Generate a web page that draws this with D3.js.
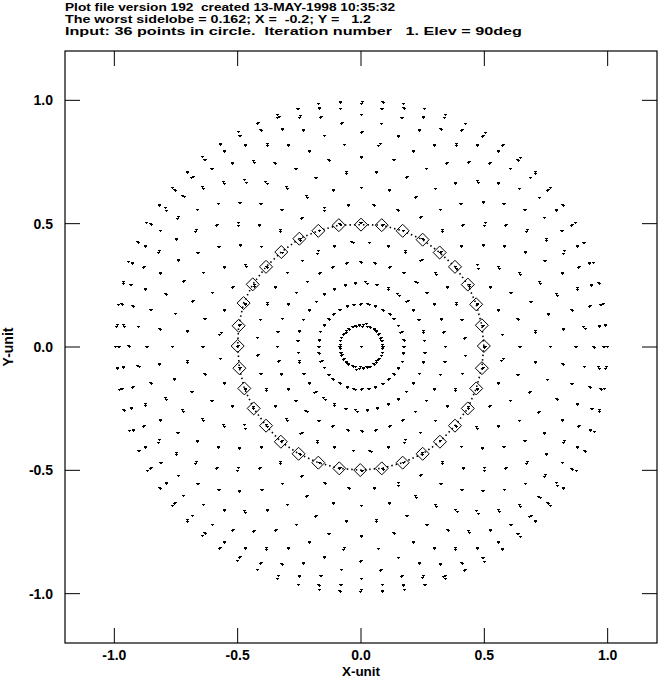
<!DOCTYPE html>
<html>
<head>
<script src="https://cdn.jsdelivr.net/npm/d3@7"></script>
<style>
  body { margin: 0; background: #fff; }
  text { font-family: "Liberation Sans", Arial, sans-serif; font-weight: bold; fill: #000; white-space: pre; }
</style>
</head>
<body>
<svg id="chart" width="658" height="678"></svg>
<script>
// Header lines
var titleLines = [
  "Plot file version 192  created 13-MAY-1998 10:35:32",
  "The worst sidelobe = 0.162; X =  -0.2; Y =   1.2",
  "Input: 36 points in circle.  Iteration number   1. Elev = 90deg"
];
var titleWidths = [330, 306, 457];

// Antenna positions (diamonds)
var antX = [0.498, 0.490, 0.467, 0.433, 0.381, 0.319, 0.250, 0.169, 0.084, 0.000,
            -0.090, -0.173, -0.250, -0.323, -0.385, -0.439, -0.476, -0.496, -0.500,
            -0.493, -0.473, -0.435, -0.385, -0.325, -0.253, -0.173, -0.088, -0.003,
            0.084, 0.169, 0.250, 0.320, 0.381, 0.433, 0.467, 0.490];
var antY = [0.004, 0.088, 0.173, 0.253, 0.325, 0.383, 0.435, 0.471, 0.494, 0.496,
            0.494, 0.471, 0.439, 0.385, 0.325, 0.254, 0.178, 0.086, 0.004,
            -0.086, -0.168, -0.249, -0.319, -0.384, -0.433, -0.469, -0.492, -0.499,
            -0.492, -0.469, -0.433, -0.384, -0.319, -0.249, -0.168, -0.086];

var tickValues = [-1.0, -0.5, 0.0, 0.5, 1.0];
var tickLabels = ["-1.0", "-0.5", "0.0", "0.5", "1.0"];

var margin = {left: 65, right: 1, top: 51, bottom: 35};
var width = 658 - margin.left - margin.right;
var height = 678 - margin.top - margin.bottom;

var svg = d3.select("svg#chart");
var g = svg.append("g").attr("transform", "translate(" + margin.left + "," + margin.top + ")");

var x = d3.scaleLinear().domain([-1.2, 1.2]).range([0, width]);
var y = d3.scaleLinear().domain([-1.2, 1.2]).range([height, 0]);

// Title
svg.selectAll("text.title").data(titleLines).enter().append("text")
  .attr("class", "title")
  .attr("x", 65).attr("y", function(d, i) { return 11 + i * 12; })
  .attr("textLength", function(d, i) { return titleWidths[i]; })
  .attr("lengthAdjust", "spacingAndGlyphs")
  .style("font-size", "11.5px")
  .text(function(d) { return d; });

// Frame
g.append("rect").attr("width", width).attr("height", height)
  .attr("fill", "none").attr("stroke", "#000").attr("stroke-width", 1.2);

// Ticks on all four sides, pointing inward
var tl = 15;
tickValues.forEach(function(v, i) {
  g.append("line").attr("x1", x(v)).attr("x2", x(v)).attr("y1", height).attr("y2", height - tl).attr("stroke", "#000");
  g.append("line").attr("x1", x(v)).attr("x2", x(v)).attr("y1", 0).attr("y2", tl).attr("stroke", "#000");
  g.append("line").attr("y1", y(v)).attr("y2", y(v)).attr("x1", 0).attr("x2", tl).attr("stroke", "#000");
  g.append("line").attr("y1", y(v)).attr("y2", y(v)).attr("x1", width).attr("x2", width - tl).attr("stroke", "#000");
  g.append("text").attr("x", x(v)).attr("y", height + 17).attr("text-anchor", "middle")
    .style("font-size", "14px").text(tickLabels[i]);
  g.append("text").attr("x", -12).attr("y", y(v) + 5).attr("text-anchor", "end")
    .style("font-size", "14px").text(tickLabels[i]);
});

// Axis labels
g.append("text").attr("x", x(0)).attr("y", height + 33).attr("text-anchor", "middle")
  .style("font-size", "13.5px").text("X-unit");
svg.append("text").attr("transform", "translate(13," + (margin.top + y(0)) + ") rotate(-90)")
  .attr("text-anchor", "middle").style("font-size", "14px").text("Y-unit");

// Baselines: all pairwise differences of antenna positions
var pts = [];
for (var i = 0; i < antX.length; i++) {
  for (var j = 0; j < antX.length; j++) {
    pts.push([antX[i] - antX[j], antY[i] - antY[j]]);
  }
}
g.append("g").selectAll("path").data(pts).enter().append("path")
  .attr("transform", function(d) { return "translate(" + (Math.round(x(d[0])) - 1) + "," + (Math.round(y(d[1])) - 1) + ")"; })
  .attr("d", "M0,0h3v1h-1v1h-1v-1h-1z")
  .attr("fill", "#000").attr("shape-rendering", "crispEdges");

// Dotted line joining the antennas
var ring = antX.map(function(v, k) { return [v, antY[k]]; });
g.append("path").datum(ring)
  .attr("d", d3.line().x(function(d) { return x(d[0]); }).y(function(d) { return y(d[1]); }).curve(d3.curveLinearClosed))
  .attr("fill", "none").attr("stroke", "#000").attr("stroke-width", 1.6)
  .attr("stroke-dasharray", "1.5,3");

// Diamonds
g.append("g").selectAll("path").data(ring).enter().append("path")
  .attr("transform", function(d) { return "translate(" + x(d[0]) + "," + y(d[1]) + ")"; })
  .attr("d", "M0,-6.5L6.5,0L0,6.5L-6.5,0Z")
  .attr("fill", "none").attr("stroke", "#000").attr("stroke-width", 1);
</script>
</body>
</html>
